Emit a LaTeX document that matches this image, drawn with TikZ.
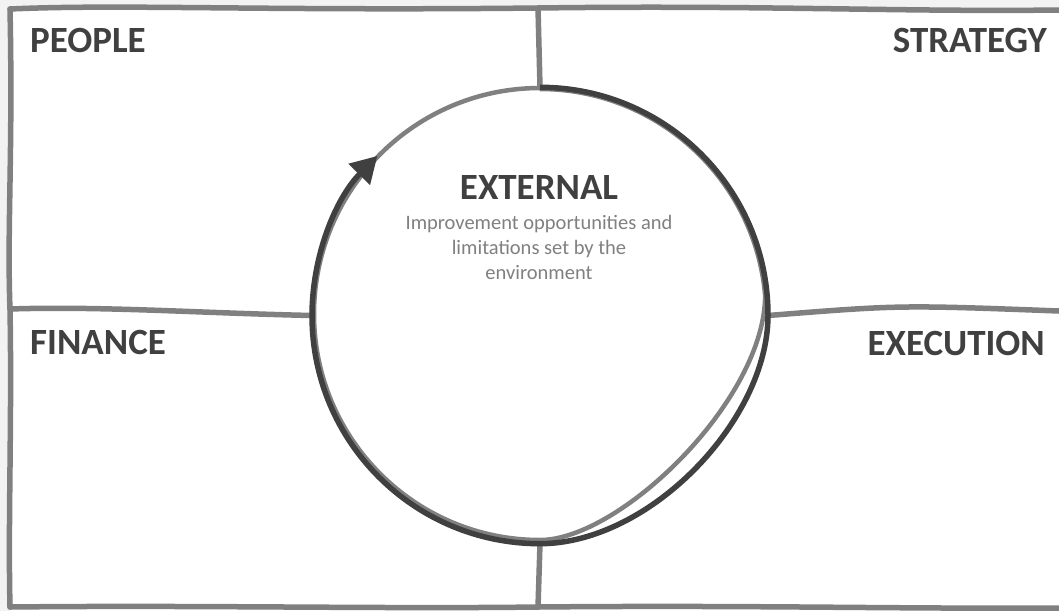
\documentclass[tikz,border=0pt]{standalone}
\usepackage{fontspec}
\setmainfont{Carlito}
\usetikzlibrary{arrows.meta}
\definecolor{bordergray}{HTML}{808080}
\definecolor{darkline}{HTML}{404040}
\definecolor{bggray}{HTML}{F2F2F2}
\definecolor{subgray}{HTML}{808080}
\begin{document}
\begin{tikzpicture}[x=1pt,y=-1pt,
  frame/.style={draw=bordergray,line width=5.5pt,line cap=round},
  ringgray/.style={draw=bordergray,line width=4.5pt},
  ringdark/.style={draw=darkline,line width=5.5pt},
  heading/.style={font=\fontsize{37}{40}\selectfont\bfseries,text=darkline,inner sep=0pt},
  subtext/.style={font=\fontsize{20.5}{25}\selectfont,text=subgray,inner sep=0pt,align=center}]
\useasboundingbox (0,0) rectangle (1059,611);
\fill[bggray] (0,0) rectangle (1059,611);
\fill[white] (10,8) rectangle (1059,611);
% circle node
\node[circle,minimum size=456pt,inner sep=0pt] (circ) at (540,315.5) {};
% frame corners
\coordinate (tl) at (10,9);
\coordinate (tm) at (538,8);
\coordinate (tr) at (1059,10);
\coordinate (ml) at (10,309);
\coordinate (mr) at (1059,311);
\coordinate (bl) at (10,607);
\coordinate (bm) at (538,607);
\coordinate (br) at (1059,608);
% frame
\draw[frame] (tl) .. controls (120,4) and (260,11) .. (tm) .. controls (760,5) and (900,12) .. (tr);
\draw[frame] (tl) .. controls (13,150) and (7,230) .. (ml) .. controls (12,420) and (8,520) .. (bl);
\draw[frame] (bl) .. controls (200,605) and (380,609) .. (bm) .. controls (750,605) and (900,609) .. (br);
\draw[frame] (ml) .. controls (100,306) and (200,313) .. (circ.west);
\draw[frame] (circ.east) .. controls (900,305) .. (mr);
\draw[frame] (tm) -- (circ.north);
\draw[frame] (circ.south) -- (bm);
% gray ring
\draw[ringgray] (540,89) arc[start angle=-90,end angle=-5,radius=226]
  .. controls (765,400) and (620,540) .. (540,540)
  arc[start angle=90,end angle=270,radius=226];
% dark arc with arrow
\draw[ringdark,-{Triangle[length=26pt,width=29pt]}] (circ.north) arc[start angle=-90,end angle=0,radius=228]
  .. controls (768,420) and (650,543.5) .. (circ.south)
  arc[start angle=90,end angle=224.5,radius=228];
% texts
\node[heading,anchor=base west] (people) at (30,52) {PEOPLE};
\node[heading,anchor=base east] (strategy) at (1047,52) {STRATEGY};
\node[heading,anchor=base west] (finance) at (30,354) {FINANCE};
\node[heading,anchor=base east] (execution) at (1045,355) {EXECUTION};
\node[heading,anchor=base] (external) at (539,199) {EXTERNAL};
\node[subtext,anchor=base] (desc) at (539,279) {Improvement opportunities and\\limitations set by the\\environment};
\end{tikzpicture}
\end{document}
